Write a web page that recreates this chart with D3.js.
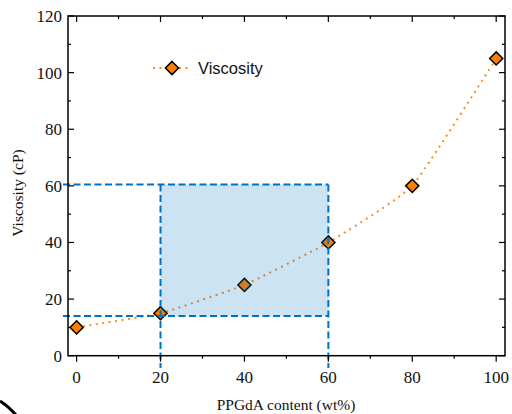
<!DOCTYPE html>
<html>
<head>
<meta charset="utf-8">
<script src="https://cdn.jsdelivr.net/npm/d3@7"></script>
<style>
  body { margin: 0; background: #fff; }
  svg { display: block; }
</style>
</head>
<body>
<div id="chart"></div>
<script>
// data
var contents = [0, 20, 40, 60, 80, 100];
var viscosity = [10, 15, 25, 40, 60, 105];
var xTicks = [0, 20, 40, 60, 80, 100];
var yTicks = [0, 20, 40, 60, 80, 100, 120];
var boxX = [20, 60];
var boxY = [14, 60.5];
var seriesName = "Viscosity";

var width = 512, height = 414;
var plotL = 68, plotR = 505, plotT = 16, plotB = 355.7;

var svg = d3.select("#chart").append("svg")
  .attr("width", width)
  .attr("height", height);

var x = d3.scaleLinear().domain([-2.05, 102.1]).range([plotL, plotR]);
var y = d3.scaleLinear().domain([0, 120]).range([plotB, plotT]);

var orange = "#ff8000";
var blue = "#0072c6";

//分组
var gLine = svg.append("g");
var gPoint = svg.append("g");
var gBox = svg.append("g");
var gAxis = svg.append("g");

// 曲线
var line = d3.line()
  .x(function(d, i) { return x(contents[i]); })
  .y(function(d) { return y(d); })
  .curve(d3.curveCardinal.tension(0.6));
gLine.append("path")
  .attr("d", line(viscosity))
  .attr("fill", "none")
  .attr("stroke", "#ff8c1a")
  .attr("stroke-width", 2)
  .attr("stroke-dasharray", "2,4.5");

// 点
var diamond = d3.symbol().type(d3.symbolDiamond2).size(110);
gPoint.selectAll("path")
  .data(viscosity)
  .enter()
  .append("path")
  .attr("d", diamond)
  .attr("transform", function(d, i) {
    return "translate(" + x(contents[i]) + "," + y(d) + ")";
  })
  .attr("fill", orange)
  .attr("stroke", "black")
  .attr("stroke-width", 1.5);

// 区域
gBox.append("rect")
  .attr("x", x(boxX[0]))
  .attr("y", y(boxY[1]))
  .attr("width", x(boxX[1]) - x(boxX[0]))
  .attr("height", y(boxY[0]) - y(boxY[1]))
  .attr("fill", blue)
  .attr("fill-opacity", 0.2);

var dash = "7,3.5";
boxY.forEach(function(v) {
  gBox.append("line")
    .attr("x1", 63).attr("x2", x(boxX[1]))
    .attr("y1", y(v)).attr("y2", y(v))
    .attr("stroke", blue).attr("stroke-width", 2)
    .attr("stroke-dasharray", dash);
});
boxX.forEach(function(v) {
  gBox.append("line")
    .attr("x1", x(v)).attr("x2", x(v))
    .attr("y1", y(boxY[1])).attr("y2", 368)
    .attr("stroke", blue).attr("stroke-width", 2)
    .attr("stroke-dasharray", dash);
});

// 坐标轴
var minorX = d3.range(0, 101, 10);
var minorY = d3.range(0, 121, 10);

gAxis.append("rect")
  .attr("x", plotL).attr("y", plotT)
  .attr("width", plotR - plotL).attr("height", plotB - plotT)
  .attr("fill", "none").attr("stroke", "black").attr("stroke-width", 1.5);

// 下 (outward) and top (inward)
minorX.forEach(function(v) {
  var len = (v % 20 == 0) ? 6 : 3;
  gAxis.append("line")
    .attr("x1", x(v)).attr("x2", x(v))
    .attr("y1", plotB).attr("y2", plotB + len)
    .attr("stroke", "black").attr("stroke-width", 1.2);
  gAxis.append("line")
    .attr("x1", x(v)).attr("x2", x(v))
    .attr("y1", plotT).attr("y2", plotT + len)
    .attr("stroke", "black").attr("stroke-width", 1.2);
});
// 左右 (inward)
minorY.forEach(function(v) {
  var len = (v % 20 == 0) ? 6 : 3;
  gAxis.append("line")
    .attr("x1", plotL).attr("x2", plotL + len)
    .attr("y1", y(v)).attr("y2", y(v))
    .attr("stroke", "black").attr("stroke-width", 1.2);
  gAxis.append("line")
    .attr("x1", plotR).attr("x2", plotR - len)
    .attr("y1", y(v)).attr("y2", y(v))
    .attr("stroke", "black").attr("stroke-width", 1.2);
});

var serif = "'Liberation Serif', 'Times New Roman', serif";
gAxis.selectAll("text.xt")
  .data(xTicks)
  .enter()
  .append("text")
  .attr("class", "xt")
  .attr("x", function(d) { return x(d); })
  .attr("y", 383)
  .attr("text-anchor", "middle")
  .attr("font-family", serif)
  .attr("font-size", "17px")
  .attr("fill", "#111")
  .text(function(d) { return d; });

gAxis.selectAll("text.yt")
  .data(yTicks)
  .enter()
  .append("text")
  .attr("class", "yt")
  .attr("x", 62)
  .attr("y", function(d) { return y(d) + 6; })
  .attr("text-anchor", "end")
  .attr("font-family", serif)
  .attr("font-size", "17px")
  .attr("fill", "#111")
  .text(function(d) { return d; });

svg.append("text")
  .attr("x", 286)
  .attr("y", 410)
  .attr("text-anchor", "middle")
  .attr("font-family", serif)
  .attr("font-size", "15.5px")
  .attr("fill", "#111")
  .text("PPGdA content (wt%)");

svg.append("text")
  .attr("transform", "translate(23,193) rotate(-90)")
  .attr("text-anchor", "middle")
  .attr("font-family", serif)
  .attr("font-size", "15.5px")
  .attr("fill", "#111")
  .text("Viscosity (cP)");

// 图例
var lg = svg.append("g");
lg.append("line")
  .attr("x1", 153).attr("x2", 192)
  .attr("y1", 68).attr("y2", 68)
  .attr("stroke", "#ff8c1a").attr("stroke-width", 2)
  .attr("stroke-dasharray", "2,4.5");
lg.append("path")
  .attr("d", diamond)
  .attr("transform", "translate(172,68)")
  .attr("fill", orange)
  .attr("stroke", "black")
  .attr("stroke-width", 1.5);
lg.append("text")
  .attr("x", 198)
  .attr("y", 74)
  .attr("font-family", "'Liberation Sans', Arial, sans-serif")
  .attr("font-size", "16.5px")
  .attr("fill", "#111")
  .text(seriesName);

// 角落的弧线
svg.append("path")
  .attr("d", "M0,401 Q8,406 16,415")
  .attr("fill", "none")
  .attr("stroke", "black")
  .attr("stroke-width", 3);
</script>
</body>
</html>
